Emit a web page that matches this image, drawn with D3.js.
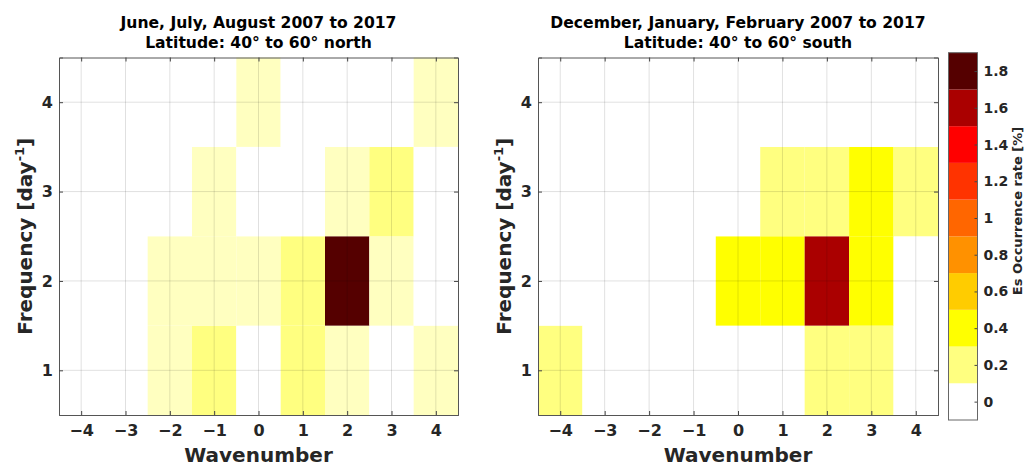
<!DOCTYPE html>
<html><head><meta charset="utf-8">
<script src="https://cdn.jsdelivr.net/npm/d3@7"></script>
<style>
body{margin:0;background:#fff}
svg{display:block}
text{font-family:"DejaVu Sans",sans-serif;font-weight:bold}
</style>
</head><body>
<svg id="c" width="1026" height="465"></svg>
<script>
const wavenumbers=[-4,-3,-2,-1,0,1,2,3,4];
const frequencies=[1,2,3,4];
// rows: frequency 1..4, columns: wavenumber -4..4  (Es occurrence rate, %)
const northJJA=[
 [0,0,0.1,0.2,0,0.2,0.1,0,0.1],
 [0,0,0.1,0.1,0.1,0.2,1.8,0.1,0],
 [0,0,0,0.1,0,0,0.1,0.2,0],
 [0,0,0,0,0.1,0,0,0,0.1]
];
const southDJF=[
 [0.2,0,0,0,0,0,0.2,0.2,0],
 [0,0,0,0,0.4,0.4,1.6,0.4,0],
 [0,0,0,0,0,0.2,0.2,0.4,0.2],
 [0,0,0,0,0,0,0,0,0]
];
const levels=[0,0.2,0.4,0.6,0.8,1.0,1.2,1.4,1.6,1.8];
const levelLabels=["0","0.2","0.4","0.6","0.8","1","1.2","1.4","1.6","1.8"];
const levelColors=["#ffffff","#ffff80","#ffff00","#ffcc00","#ff9100","#ff6600","#ff3300","#ff0000","#aa0000","#550000"];
const titlesNorth=["June, July, August 2007 to 2017","Latitude: 40° to 60° north"];
const titlesSouth=["December, January, February 2007 to 2017","Latitude: 40° to 60° south"];

const svg=d3.select("#c");
const color=d3.scaleLinear().domain(levels).range(levelColors).clamp(true);
const plotTop=57.5,plotBottom=415;
const y=d3.scaleLinear().domain([0.5,4.5]).range([plotBottom,plotTop]);

function panel(data,x0,x1,titles,ylabX){
  const x=d3.scaleLinear().domain([-4.5,4.5]).range([x0,x1]);
  const g=svg.append("g");
  const cells=[];
  data.forEach((row,i)=>row.forEach((v,j)=>cells.push({f:frequencies[i],w:wavenumbers[j],v})));
  g.selectAll("rect.cell").data(cells).join("rect").attr("class","cell")
    .attr("x",d=>x(d.w-0.5)).attr("y",d=>y(d.f+0.5))
    .attr("width",d=>x(d.w+0.5)-x(d.w-0.5)).attr("height",d=>y(d.f-0.5)-y(d.f+0.5))
    .attr("fill",d=>color(d.v));
  g.selectAll("line.gx").data(wavenumbers).join("line").attr("class","gx")
    .attr("x1",d=>x(d)).attr("x2",d=>x(d)).attr("y1",plotTop).attr("y2",plotBottom)
    .attr("stroke","#000").attr("stroke-opacity",0.12).attr("stroke-width",1);
  g.selectAll("line.gy").data(frequencies).join("line").attr("class","gy")
    .attr("y1",d=>y(d)).attr("y2",d=>y(d)).attr("x1",x0).attr("x2",x1)
    .attr("stroke","#000").attr("stroke-opacity",0.12).attr("stroke-width",1);
  const ab=g.append("g").attr("transform",`translate(0,${plotBottom})`)
    .call(d3.axisBottom(x).tickValues(wavenumbers).tickSize(-4).tickPadding(10).tickFormat(d3.format("d")));
  const at=g.append("g").attr("transform",`translate(0,${plotTop})`)
    .call(d3.axisTop(x).tickValues(wavenumbers).tickSize(-4).tickFormat(""));
  const al=g.append("g").attr("transform",`translate(${x0},0)`)
    .call(d3.axisLeft(y).tickValues(frequencies).tickSize(-4).tickPadding(6).tickFormat(d3.format("d")));
  const ar=g.append("g").attr("transform",`translate(${x1},0)`)
    .call(d3.axisRight(y).tickValues(frequencies).tickSize(-4).tickFormat(""));
  [ab,at,al,ar].forEach(a=>{
    a.select(".domain").attr("stroke","#555");
    a.selectAll(".tick line").attr("stroke","#444");
    a.selectAll("text").attr("fill","#262626").style("font-size","16px").style("font-family","DejaVu Sans").style("font-weight","bold");
  });
  const cx=(x0+x1)/2;
  g.append("text").attr("x",cx).attr("y",27.5).attr("text-anchor","middle").style("font-size","15.6px").attr("fill","#000").text(titles[0]);
  g.append("text").attr("x",cx).attr("y",47.5).attr("text-anchor","middle").style("font-size","15.6px").attr("fill","#000").text(titles[1]);
  g.append("text").attr("x",cx).attr("y",461.5).attr("text-anchor","middle").style("font-size","20px").attr("fill","#262626").text("Wavenumber");
  const yl=g.append("text").attr("transform",`translate(${ylabX},${(plotTop+plotBottom)/2}) rotate(-90)`)
    .attr("text-anchor","middle").style("font-size","20px").attr("fill","#262626");
  yl.append("tspan").text("Frequency [day");
  yl.append("tspan").attr("dy",-8).style("font-size","13px").text("-1");
  yl.append("tspan").attr("dy",8).text("]");
}
panel(northJJA,59,458,titlesNorth,32);
panel(southDJF,538,938,titlesSouth,511);

const cbX0=948.5,cbX1=977.5,cbTop=52.7,cbBot=420;
const cy=d3.scaleLinear().domain([-0.1,1.9]).range([cbBot,cbTop]);
const cb=svg.append("g");
cb.selectAll("rect").data(levels).join("rect")
  .attr("x",cbX0).attr("width",cbX1-cbX0)
  .attr("y",d=>cy(d+0.1)).attr("height",d=>cy(d-0.1)-cy(d+0.1))
  .attr("fill",(d,i)=>levelColors[i]);
const cbAxis=cb.append("g").attr("transform",`translate(${cbX1},0)`)
  .call(d3.axisRight(cy).tickValues(levels).tickSize(-3).tickPadding(6).tickFormat((d,i)=>levelLabels[i]));
cbAxis.select(".domain").remove();
cbAxis.selectAll(".tick line").attr("stroke","#444");
cbAxis.selectAll("text").attr("fill","#262626").style("font-size","14px").style("font-family","DejaVu Sans").style("font-weight","bold");
cb.append("rect").attr("x",cbX0).attr("y",cbTop).attr("width",cbX1-cbX0).attr("height",cbBot-cbTop)
  .attr("fill","none").attr("stroke","#666");
svg.append("text").attr("transform","translate(1022,211) rotate(-90)").attr("text-anchor","middle")
  .style("font-size","13px").attr("fill","#262626").text("Es Occurrence rate [%]");
</script>
</body></html>
